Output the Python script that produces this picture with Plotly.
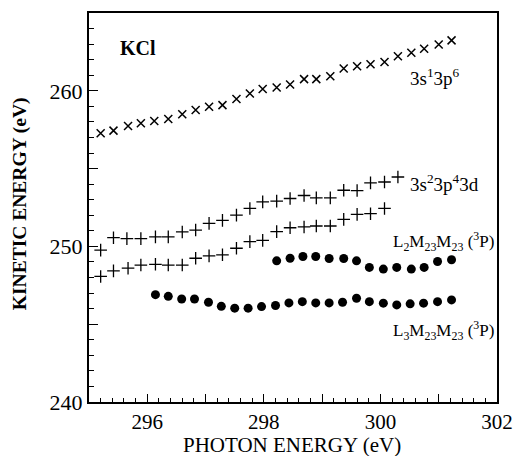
import plotly.graph_objects as go

# 3s1 3p6 (crosses)
x_s1 = [295.20, 295.42, 295.67, 295.89, 296.12, 296.36, 296.60, 296.83, 297.06, 297.29,
        297.53, 297.76, 297.98, 298.22, 298.45, 298.69, 298.90, 299.14, 299.37, 299.60,
        299.83, 300.07, 300.30, 300.53, 300.75, 301.00, 301.22]
y_s1 = [257.27, 257.44, 257.74, 257.91, 258.06, 258.19, 258.49, 258.76, 258.98, 259.08,
        259.47, 259.83, 260.11, 260.21, 260.40, 260.75, 260.75, 260.94, 261.43, 261.58,
        261.71, 261.85, 262.22, 262.45, 262.70, 262.98, 263.24]

# 3s2 3p4 3d upper (plus)
x_d1 = [295.20, 295.42, 295.65, 295.89, 296.14, 296.36, 296.60, 296.83, 297.06, 297.29,
        297.53, 297.76, 297.98, 298.22, 298.45, 298.69, 298.90, 299.14, 299.37, 299.60,
        299.83, 300.07, 300.30]
y_d1 = [249.76, 250.56, 250.50, 250.50, 250.61, 250.61, 250.93, 251.05, 251.48, 251.67,
        252.01, 252.44, 252.86, 252.91, 253.08, 253.27, 253.12, 253.12, 253.61, 253.59,
        254.08, 254.14, 254.46]

# 3s2 3p4 3d lower (plus)
x_d2 = [295.20, 295.42, 295.67, 295.89, 296.14, 296.36, 296.60, 296.83, 297.06, 297.29,
        297.53, 297.76, 297.98, 298.22, 298.45, 298.69, 298.90, 299.14, 299.37, 299.60,
        299.83, 300.07]
y_d2 = [248.07, 248.43, 248.60, 248.80, 248.85, 248.80, 248.80, 249.24, 249.39, 249.46,
        249.88, 250.31, 250.39, 250.95, 251.20, 251.25, 251.31, 251.31, 251.74, 252.06,
        252.10, 252.44]

# L2M23M23 (3P) (dots)
x_l2 = [298.22, 298.45, 298.67, 298.89, 299.12, 299.37, 299.59, 299.81, 300.05, 300.28,
        300.53, 300.75, 300.98, 301.22]
y_l2 = [249.07, 249.24, 249.35, 249.35, 249.22, 249.22, 249.07, 248.65, 248.54, 248.65,
        248.54, 248.65, 249.03, 249.14]

# L3M23M23 (3P) (dots)
x_l3 = [296.14, 296.36, 296.59, 296.81, 297.05, 297.27, 297.50, 297.73, 297.96, 298.20,
        298.43, 298.66, 298.89, 299.12, 299.35, 299.59, 299.81, 300.05, 300.28, 300.51,
        300.74, 300.98, 301.22]
y_l3 = [246.90, 246.79, 246.62, 246.62, 246.41, 246.15, 246.03, 246.03, 246.13, 246.20,
        246.37, 246.45, 246.37, 246.37, 246.41, 246.67, 246.45, 246.35, 246.24, 246.31,
        246.35, 246.45, 246.56]

x_ticks = [295, 296, 297, 298, 299, 300, 301, 302]
x_labels = ["", "296", "", "298", "", "300", "", "302"]
y_ticks = [240, 245, 250, 255, 260, 265]
y_labels = ["240", "", "250", "", "260", ""]

SERIF = "Liberation Serif"

fig = go.Figure()
fig.add_trace(go.Scatter(x=x_s1, y=y_s1, mode="markers",
                         marker=dict(symbol="x-thin", size=8, color="black",
                                     line=dict(width=1.5, color="black"))))
for xs, ys in [(x_d1, y_d1), (x_d2, y_d2)]:
    fig.add_trace(go.Scatter(x=xs, y=ys, mode="markers",
                             marker=dict(symbol="cross-thin", size=9, color="black",
                                         line=dict(width=1.3, color="black"))))
for xs, ys in [(x_l2, y_l2), (x_l3, y_l3)]:
    fig.add_trace(go.Scatter(x=xs, y=ys, mode="markers",
                             marker=dict(symbol="circle", size=9, color="black",
                                         line=dict(width=0))))

ann_font = dict(family=SERIF, size=19, color="black")
fig.add_annotation(x=295.49, y=262.75, text="<b>KCl</b>", showarrow=False,
                   xanchor="left", yanchor="middle",
                   font=dict(family=SERIF, size=20, color="black"))
fig.add_annotation(x=300.48, y=260.9, text="3s<sup>1</sup>3p<sup>6</sup>", showarrow=False,
                   xanchor="left", yanchor="middle", font=ann_font)
fig.add_annotation(x=300.48, y=254.1, text="3s<sup>2</sup>3p<sup>4</sup>3d", showarrow=False,
                   xanchor="left", yanchor="middle", font=ann_font)
fig.add_annotation(x=301.98, y=250.3,
                   text="L<sub>2</sub>M<sub>23</sub>M<sub>23</sub> (<sup>3</sup>P)",
                   showarrow=False, xanchor="right", yanchor="middle",
                   font=dict(family=SERIF, size=17, color="black"))
fig.add_annotation(x=301.98, y=244.6,
                   text="L<sub>3</sub>M<sub>23</sub>M<sub>23</sub> (<sup>3</sup>P)",
                   showarrow=False, xanchor="right", yanchor="middle",
                   font=dict(family=SERIF, size=17, color="black"))

PW = 524 - 89 - 20
PH = 456 - 11 - 54
fig.add_annotation(xref="paper", yref="paper", x=(295 - 89) / PW, y=(402 - 445) / PH,
                   text="PHOTON ENERGY (eV)", showarrow=False,
                   xanchor="center", yanchor="middle",
                   font=dict(family=SERIF, size=21, color="black"))
fig.add_annotation(xref="paper", yref="paper", x=(19 - 89) / PW, y=(402 - 203) / PH,
                   text="<b>KINETIC ENERGY (eV)</b>", showarrow=False, textangle=-90,
                   xanchor="center", yanchor="middle",
                   font=dict(family=SERIF, size=19.5, color="black"))

fig.update_layout(
    width=524, height=456,
    margin=dict(l=89, r=20, t=11, b=54),
    paper_bgcolor="white", plot_bgcolor="white",
    showlegend=False,
    font=dict(family=SERIF, color="black"),
    xaxis=dict(range=[295, 302], showgrid=False, zeroline=False,
               showline=True, linecolor="black", linewidth=2, mirror=True,
               ticks="inside", ticklen=8, tickwidth=1.3, tickcolor="black",
               tickvals=x_ticks, ticktext=x_labels, ticklabelstandoff=0,
               tickfont=dict(family=SERIF, size=21, color="black"),
               minor=dict(dtick=0.2, ticks="inside", ticklen=4, tickwidth=1.2, tickcolor="black")),
    yaxis=dict(range=[240, 265], showgrid=False, zeroline=False,
               showline=True, linecolor="black", linewidth=2, mirror=True,
               ticks="inside", ticklen=9, tickwidth=1.3, tickcolor="black",
               tickvals=y_ticks, ticktext=y_labels,
               tickfont=dict(family=SERIF, size=22, color="black"),
               minor=dict(dtick=1, ticks="inside", ticklen=5, tickwidth=1.2, tickcolor="black")),
)

fig.write_html("out.html", config={"displayModeBar": False},
               post_script="document.body.style.margin='0px';")
